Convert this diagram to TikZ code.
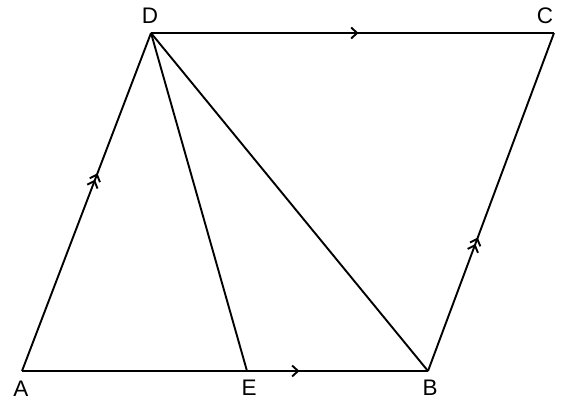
\documentclass[tikz,border=0pt]{standalone}
\usepackage{fontspec}
\setmainfont{Liberation Sans}
\usetikzlibrary{decorations.markings,arrows.meta}
\tikzset{
  edge/.style={line width=1.9pt},
  lbl/.style={inner sep=0pt,font=\fontsize{22.5}{26}\selectfont},
  onearrow/.style={postaction={decorate},decoration={markings,
    mark=at position #1 with {\arrow{Straight Barb[length=6pt,width=11pt,line width=1.9pt]}}}},
  twoarrow/.style={postaction={decorate},decoration={markings,
    mark=at position #1 with {\arrow{Straight Barb[length=6pt,width=11pt,line width=1.9pt]}},
    mark=at position #1-0.019 with {\arrow{Straight Barb[length=6pt,width=11pt,line width=1.9pt]}}}}
}
\begin{document}
\begin{tikzpicture}[x=1pt,y=-1pt]
\useasboundingbox (0,0) rectangle (583,412);
\coordinate (A) at (22,371);
\coordinate (B) at (428,371);
\coordinate (C) at (554,33);
\coordinate (D) at (151,33);
\coordinate (E) at (247,371);
\draw[edge,twoarrow=0.585] (A) -- (D);
\draw[edge,onearrow=0.515] (D) -- (C);
\draw[edge,twoarrow=0.395] (B) -- (C);
\draw[edge] (A) -- (E);
\draw[edge,onearrow=0.29] (E) -- (B);
\draw[edge] (D) -- (E);
\draw[edge] (D) -- (B);
\node[lbl] (lD) at (150,16) {D};
\node[lbl] (lC) at (545,16) {C};
\node[lbl] (lA) at (21,389) {A};
\node[lbl] (lE) at (249,388) {E};
\node[lbl] (lB) at (430,388) {B};
\end{tikzpicture}
\end{document}
